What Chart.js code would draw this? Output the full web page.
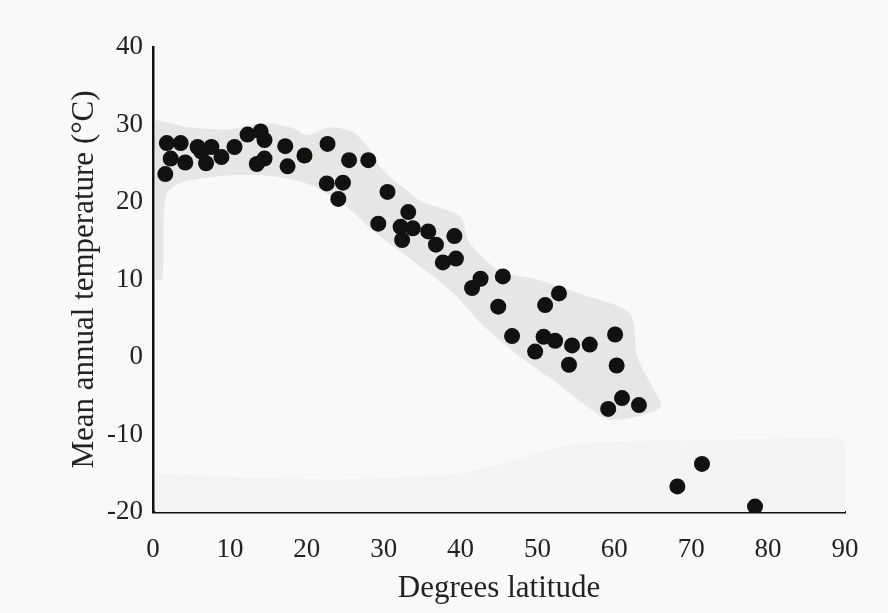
<!DOCTYPE html>
<html>
<head>
<meta charset="utf-8">
<script src="https://cdn.jsdelivr.net/npm/chart.js@4"></script>
<style>
  html, body { margin: 0; padding: 0; background: #f9f9f7; }
  #wrap { width: 888px; height: 613px; }
</style>
</head>
<body>
<div id="wrap"><canvas id="myChart"></canvas></div>
<script>
// stations: latitude (deg) and mean annual temperature (°C)
const latitude = [
  1.8, 3.6, 2.3, 4.2, 1.6, 5.8, 7.6, 6.3, 6.9, 8.9, 10.6,
  12.3, 14.0, 14.5, 14.5, 13.5, 17.2, 17.5, 19.7, 22.7, 25.5, 28.0,
  22.6, 24.7, 24.1, 30.5, 33.2, 29.3, 32.2, 33.8, 32.4, 35.8, 39.2,
  36.8, 37.7, 39.4, 41.5, 42.6, 45.5, 44.9, 52.8, 51.0, 46.7, 49.7,
  50.8, 52.3, 54.5, 56.8, 54.1, 60.1, 60.3, 61.0, 59.2, 63.2,
  71.4, 68.2, 78.3
];
const meanTemp = [
  27.6, 27.6, 25.6, 25.1, 23.6, 27.1, 27.1, 26.5, 25.0, 25.8, 27.1,
  28.7, 29.1, 28.0, 25.6, 24.9, 27.2, 24.6, 26.0, 27.5, 25.4, 25.4,
  22.4, 22.5, 20.4, 21.3, 18.7, 17.2, 16.8, 16.6, 15.1, 16.2, 15.6,
  14.5, 12.2, 12.7, 8.9, 10.1, 10.4, 6.5, 8.2, 6.7, 2.7, 0.7,
  2.6, 2.1, 1.5, 1.6, -1.0, 2.9, -1.1, -5.3, -6.7, -6.2,
  -13.8, -16.7, -19.3
];

// stippled band around the points (outline)
const bandLat = [0.3, 1, 5, 10, 14, 18, 20, 23, 26, 28, 30, 33, 35, 40, 41, 45, 50, 53, 56, 62, 63, 65, 66,
  59.5, 56, 52, 47.8, 43, 39, 33, 29, 25, 20, 13.5, 4.8, 1.8, 1.2, 0.3];
const bandTemp = [30.5, 30.5, 29.6, 29.4, 30.2, 29.6, 28.6, 29.6, 29.0, 27.0, 24.0, 21.5, 20.0, 18.1, 15.0, 11.2, 10.0, 9.0, 8.0, 5.6, 0, -4, -6.5,
  -8.1, -6, -3, 0, 4, 8.3, 13, 16, 19.5, 22.4, 23.5, 22.8, 21.1, 10, 10];

// faint stipple along the bottom
const lowLat = [0.3, 10, 25, 40, 48, 55, 65, 80, 90, 90, 0.3];
const lowTemp = [-15, -15.5, -15.8, -15, -13, -11.2, -10.8, -10.6, -11, -20, -20];

const toXY = (xs, ys) => xs.map((x, i) => ({ x: x, y: ys[i] }));

const serif = '"Liberation Serif", "DejaVu Serif", serif';

const bgPlugin = {
  id: 'bg',
  beforeDraw(chart) {
    const c = chart.ctx;
    c.save();
    c.fillStyle = '#f9f9f7';
    c.fillRect(0, 0, chart.width, chart.height);
    c.restore();
  }
};

const ctx = document.getElementById('myChart');

new Chart(ctx, {
  type: 'scatter',
  data: {
    datasets: [{
      label: 'stations',
      data: toXY(latitude, meanTemp),
      pointRadius: 8,
      pointBackgroundColor: '#111',
      pointBorderWidth: 0,
      showLine: false
    }, {
      label: 'band',
      data: toXY(bandLat, bandTemp),
      showLine: true,
      fill: 'shape',
      tension: 0.3,
      backgroundColor: '#e6e6e4',
      borderWidth: 0,
      pointRadius: 0
    }, {
      label: 'low',
      data: toXY(lowLat, lowTemp),
      showLine: true,
      fill: 'shape',
      tension: 0.2,
      backgroundColor: '#f3f3f1',
      borderWidth: 0,
      pointRadius: 0
    }]
  },
  options: {
    responsive: true,
    maintainAspectRatio: false,
    animation: false,
    layout: { padding: { left: 0, top: 47, right: 43, bottom: 0 } },
    plugins: {
      legend: { display: false },
      tooltip: { enabled: false }
    },
    scales: {
      x: {
        type: 'linear',
        min: 0,
        max: 90,
        grid: { display: false, drawTicks: false, tickLength: 0 },
        border: { display: true, color: '#111', width: 2.5 },
        ticks: {
          stepSize: 10,
          padding: 22,
          color: '#222',
          font: { family: serif, size: 27 }
        },
        title: {
          display: true,
          text: 'Degrees latitude',
          color: '#222',
          padding: { top: 0, bottom: 6 },
          font: { family: serif, size: 31 }
        },
        afterFit(scale) { scale.height = 101; }
      },
      y: {
        type: 'linear',
        min: -20,
        max: 40,
        grid: { display: false, drawTicks: false, tickLength: 0 },
        border: { display: true, color: '#111', width: 2.5 },
        ticks: {
          stepSize: 10,
          padding: 10,
          color: '#222',
          font: { family: serif, size: 27 }
        },
        title: {
          display: true,
          text: 'Mean annual temperature (°C)',
          color: '#222',
          padding: { top: 66, bottom: 0 },
          font: { family: serif, size: 31 }
        },
        afterFit(scale) { scale.width = 153; }
      }
    }
  },
  plugins: [bgPlugin]
});
</script>
</body>
</html>
